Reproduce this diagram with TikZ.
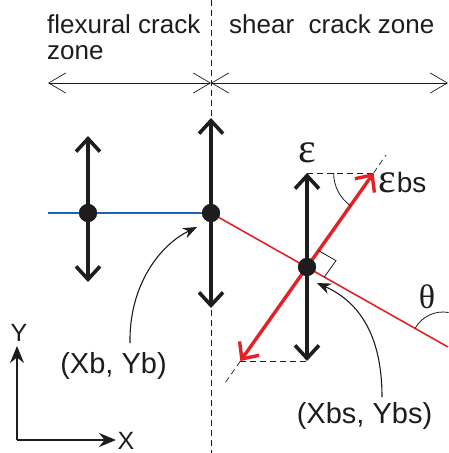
\documentclass[tikz,border=0pt]{standalone}
\usepackage{fontspec}
\setmainfont{Liberation Sans}
\newfontfamily\grk{Liberation Serif}
\usetikzlibrary{arrows.meta}
\definecolor{bblue}{RGB}{30,100,175}
\definecolor{rred}{RGB}{225,35,40}
\definecolor{ink}{RGB}{30,28,28}
\begin{document}
\begin{tikzpicture}[x=1pt,y=-1pt,
  vbar/.style={draw=ink,line width=3.6pt,{Straight Barb[length=13pt,width=24pt]}-{Straight Barb[length=13pt,width=24pt]}},
  rbar/.style={draw=rred,line width=3.4pt,{Straight Barb[length=13pt,width=24pt]}-{Straight Barb[length=13pt,width=24pt]}},
  dimline/.style={draw=ink,line width=0.7pt,{Straight Barb[length=17pt,width=20pt]}-{Straight Barb[length=17pt,width=20pt]}},
  dot/.style={circle,fill=ink,inner sep=0pt,minimum size=18pt},
  thin dash/.style={draw=ink,line width=0.7pt,dash pattern=on 6pt off 4pt},
  callout/.style={draw=ink,line width=1.1pt,-{Stealth[length=14pt,width=11pt]}},
  axis/.style={draw=ink,line width=2.2pt,-{Stealth[length=17pt,width=14pt]}},
  hdr/.style={font=\fontsize{26}{27}\selectfont,text=ink,inner sep=0pt},
  lbl/.style={font=\fontsize{29}{31}\selectfont,text=ink,inner sep=0pt},
  axl/.style={font=\fontsize{25}{26}\selectfont,text=ink,inner sep=0pt},
  grkl/.style={font=\grk\fontsize{42}{44}\selectfont,text=ink,inner sep=0pt}]
\useasboundingbox (0,0) rectangle (448,453);
% coordinates
\coordinate (vtop) at (211,0);
\coordinate (vbot) at (211,453);
\coordinate (dl) at (48,83);
\coordinate (dm) at (211,83);
\coordinate (dr) at (448,83);
\coordinate (bl) at (48,213);
\coordinate (a1t) at (88,136);
\coordinate (a1b) at (88,282);
\coordinate (a2t) at (211,118);
\coordinate (a2b) at (211,308);
\coordinate (a3t) at (307,173);
\coordinate (a3b) at (307,361);
\coordinate (rt) at (373.6,173);
\coordinate (rb) at (240.4,361);
\coordinate (rte) at (386,155);
\coordinate (rbe) at (225,383);
\coordinate (redend) at (448,347);
\coordinate (ra) at (318.6,250.7);
\coordinate (rbc) at (336,260.6);
\coordinate (rc) at (324.4,276.9);
\coordinate (thc) at (443,344);
\coordinate (o) at (17,440);
\coordinate (ox) at (116,440);
\coordinate (oy) at (17,346);
% dashed boundary
\draw[thin dash] (vtop) -- (vbot);
% dimension lines
\draw[dimline] (dl) -- (dm);
\draw[dimline] (dm) -- (dr);
% texts
\node[hdr,anchor=base west] (t1) at (47,33) {flexural crack};
\node[hdr,anchor=base west] (t2) at (47,59) {zone};
\node[hdr,anchor=base west] (t3) at (229,33) {shear\ \ crack zone};
% crack lines
\node[dot] (p1) at (88,213) {};
\node[dot] (p2) at (211,213) {};
\node[dot] (p3) at (307,267) {};
\draw[bblue,line width=1.8pt] (bl) -- (p2.center);
\draw[rred,line width=1.6pt] (p2.center) -- (redend);
% helper dashed lines
\draw[thin dash] (a3t) -- (rt);
\draw[thin dash] (rb) -- (a3b);
\draw[thin dash] (rt) -- (rte);
\draw[thin dash] (rb) -- (rbe);
% arrows
\draw[vbar] (a1t) -- (a1b);
\draw[vbar] (a2t) -- (a2b);
\draw[vbar] (a3t) -- (a3b);
\draw[rbar] (rb) -- (rt);
% dots on top
\node[dot] at (p1) {};
\node[dot] at (p2) {};
\node[dot] at (p3) {};
% right angle
\draw[ink,line width=0.8pt] (ra) -- (rbc) -- (rc);
% angle arcs
\draw[ink,line width=0.8pt] (rt) ++(180:40) arc[start angle=180,end angle=125.3,radius=40];
\draw[ink,line width=0.8pt] (thc) ++(-150.2:32) arc[start angle=-150.2,end angle=-80,radius=32];
% greek labels
\node[grkl] (eps) at (307,153) {ε};
\node[grkl,anchor=base west] (epsbs) at (378,192) {ε\kern1pt\fontspec{Liberation Sans}\fontsize{28}{29}\selectfont bs};
\node[grkl,font=\grk\fontsize{34}{35}\selectfont] (th) at (427,297) {θ};
% coordinate labels and callouts
\node[lbl,anchor=base] (lb) at (113.5,373) {(Xb, Yb)};
\node[lbl,anchor=base] (lbs) at (364.5,423) {(Xbs, Ybs)};
\draw[callout] (130,343) .. controls (129,285) and (160,245) .. (197,227);
\draw[callout] (382,397) .. controls (382,330) and (355,300) .. (317,283);
% axes
\draw[axis] (o) -- (oy);
\draw[axis] (o) -- (ox);
\node[axl] (ly) at (19,333) {Y};
\node[axl,anchor=base] (lx) at (126,449) {X};
\end{tikzpicture}
\end{document}
